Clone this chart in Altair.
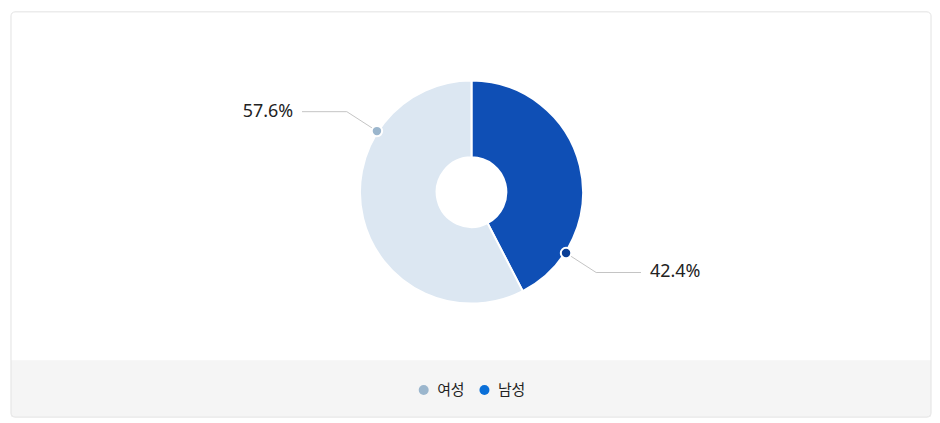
import altair as alt
import pandas as pd

# ---- data ----
categories = ["남성", "여성"]
values = [42.4, 57.6]
labels = ["42.4%", "57.6%"]
legend_order = ["여성", "남성"]

pie_colors = ["#0f4fb5", "#dce7f2"]          # by categories
marker_colors = ["#0b3f96", "#9bb6cd"]
legend_colors = ["#9bb6cd", "#0a6fd8"]       # by legend_order

df = pd.DataFrame({"cat": categories, "value": values, "label": labels,
                   "seq": list(range(len(categories)))})

# ---- layout ----
W, H = 924, 407
CX, CY = 462.5, 181
R_IN, R_OUT = 35, 112
R_DOT, R_ELB = 113, 149
H_LEN, T_GAP = 45, 9
OFF = 46.5  # degrees, label angle offset
FONT = "Noto Sans CJK KR"
NUM_FONT = "Noto Sans"

xs = alt.Scale(domain=[0, W], range=[0, W], nice=False, zero=False)
ys = alt.Scale(domain=[0, H], range=[0, H], nice=False, zero=False)

base = alt.Chart(df)

geo = base.transform_window(
    cum="sum(value)", sort=[alt.SortField("seq", order="ascending")], frame=[None, 0]
).transform_joinaggregate(total="sum(value)").transform_calculate(
    mid=f"(datum.cum - datum.value/2)/datum.total*2*PI + {OFF}*PI/180"
).transform_calculate(
    dx=f"{CX} + {R_DOT}*sin(datum.mid)",
    dy=f"{CY} - {R_DOT}*cos(datum.mid)",
    ex=f"{CX} + {R_ELB}*sin(datum.mid)",
    ey=f"{CY} - {R_ELB}*cos(datum.mid)",
    side="sin(datum.mid) >= 0 ? 1 : -1",
).transform_calculate(
    hx=f"datum.ex + datum.side*{H_LEN}",
    tx=f"datum.ex + datum.side*{H_LEN + T_GAP}",
)

band = alt.Chart(alt.Data(values=[{}])).mark_rect(fill="#f5f5f5").encode(
    x=alt.value(0), x2=alt.value(W), y=alt.value(350), y2=alt.value(H)
)
card = alt.Chart(alt.Data(values=[{}])).mark_rect(
    fill=None, stroke="#e2e2e2", strokeWidth=1, cornerRadius=4
).encode(x=alt.value(0), x2=alt.value(W), y=alt.value(0), y2=alt.value(H))

pie = base.mark_arc(innerRadius=R_IN, outerRadius=R_OUT, stroke="white", strokeWidth=2).encode(
    theta=alt.Theta("value:Q", stack=True),
    order=alt.Order("seq:Q", sort="ascending"),
    color=alt.Color("cat:N", scale=alt.Scale(domain=categories, range=pie_colors), legend=None),
    x=alt.value(CX), y=alt.value(CY),
)

radial = geo.mark_rule(color="#c4c4c4", strokeWidth=1).encode(
    x=alt.X("dx:Q", scale=xs, axis=None), y=alt.Y("dy:Q", scale=ys, axis=None),
    x2="ex:Q", y2="ey:Q",
)
horiz = geo.mark_rule(color="#c4c4c4", strokeWidth=1).encode(
    x=alt.X("ex:Q", scale=xs, axis=None), y=alt.Y("ey:Q", scale=ys, axis=None),
    x2="hx:Q", y2="ey:Q",
)

markers = geo.mark_circle(size=110, opacity=1, stroke="white", strokeWidth=2).encode(
    x=alt.X("dx:Q", scale=xs, axis=None), y=alt.Y("dy:Q", scale=ys, axis=None),
    color=alt.Color("cat:N", scale=alt.Scale(domain=categories, range=marker_colors), legend=None),
)

text_r = geo.transform_filter("datum.side > 0").mark_text(
    align="left", baseline="middle", font=NUM_FONT, fontSize=18, color="#222222"
).encode(
    x=alt.X("tx:Q", scale=xs, axis=None), y=alt.Y("ey:Q", scale=ys, axis=None), text="label:N"
)
text_l = geo.transform_filter("datum.side < 0").mark_text(
    align="right", baseline="middle", font=NUM_FONT, fontSize=18, color="#222222"
).encode(
    x=alt.X("tx:Q", scale=xs, axis=None), y=alt.Y("ey:Q", scale=ys, axis=None), text="label:N"
)

legend_layer = base.mark_point(filled=True, opacity=0).encode(
    x=alt.value(0), y=alt.value(0),
    color=alt.Color(
        "cat:N",
        scale=alt.Scale(domain=legend_order, range=legend_colors),
        legend=alt.Legend(
            title=None, orient="none", legendX=407, legendY=372, direction="horizontal",
            symbolType="circle", symbolSize=100, symbolOpacity=1, symbolStrokeWidth=0,
            labelFont=FONT, labelFontSize=15, labelColor="#222222", columnPadding=12,
            labelOffset=6,
        ),
    ),
)

chart = alt.layer(band, card, pie, radial, horiz, markers, text_r, text_l, legend_layer).resolve_scale(
    color="independent"
).properties(width=W, height=H, padding=0, background="white").configure_view(stroke=None)

chart.save("out.html", embed_options={"renderer": "svg", "actions": False})
